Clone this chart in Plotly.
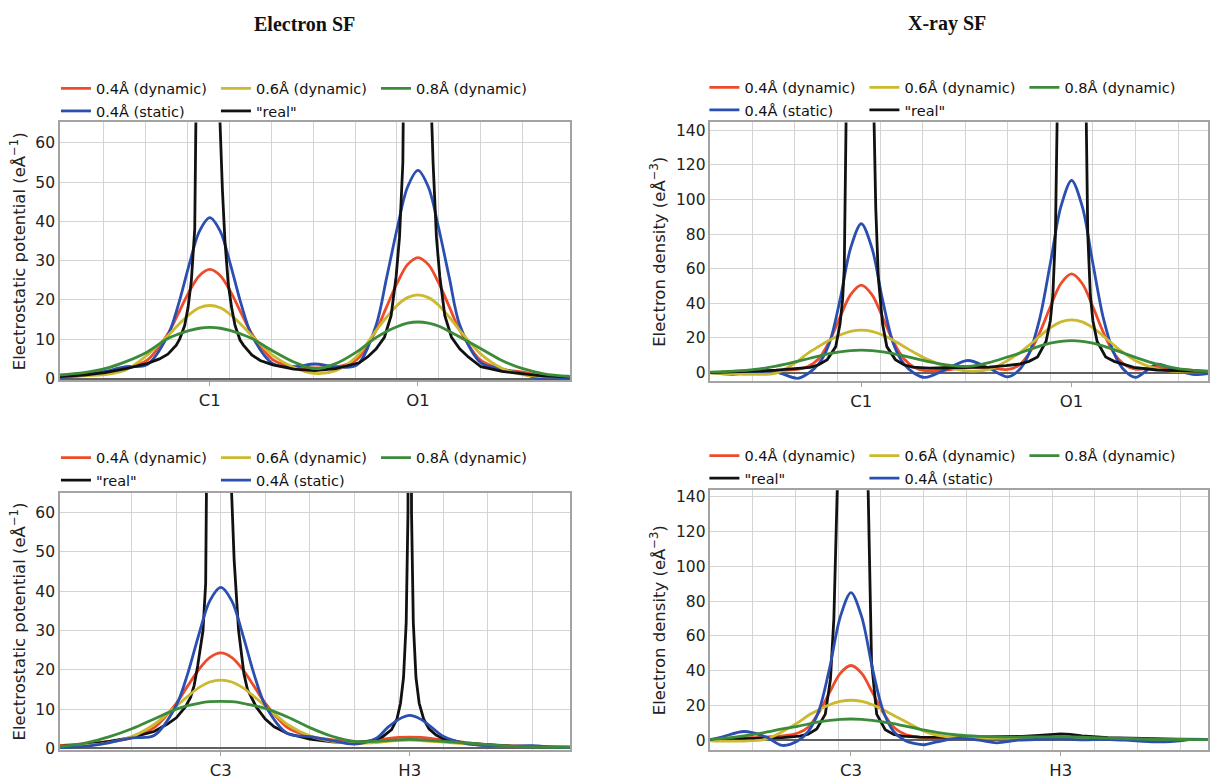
import plotly.graph_objects as go

W, H = 1210, 780
FONT = "DejaVu Sans"

NAMES = ["0.4Å (dynamic)", "0.4Å (static)", "0.6Å (dynamic)", '"real"', "0.8Å (dynamic)"]
COLORS = {"red": "#ee4b2b", "blue": "#2b4fb0", "yel": "#cbb92f", "blk": "#111111", "grn": "#3b8b3b"}

# ---------------- Electron SF, C1-O1 (top left) ----------------
TL_TICKS = [0.0, 1.24]
TL_LABELS = ["C1", "O1"]
TL_X = [-0.9, -0.75, -0.625, -0.5, -0.375, -0.25, -0.1875, -0.125, -0.0625, 0.0, 0.0625, 0.125, 0.1875, 0.25,
        0.375, 0.5, 0.625, 0.75, 0.875, 0.99, 1.0525, 1.115, 1.1775, 1.24, 1.3025, 1.365, 1.4275, 1.49, 1.615,
        1.74, 1.865, 1.99, 2.15]
TL_RED = [0.7, 1.2, 1.7, 2.6, 4.6, 11.4, 16.6, 22.0, 26.2, 27.8, 26.2, 22.0, 16.6, 11.4, 4.8, 2.9, 2.7, 2.9, 4.8,
          12.2, 18.2, 24.2, 29.0, 30.8, 29.0, 24.2, 18.2, 12.2, 4.6, 2.4, 1.6, 0.6, 0.4]
TL_BLUE = [0.3, 0.8, 1.8, 3.0, 3.5, 11.0, 18.8, 28.7, 37.5, 41.0, 37.5, 28.7, 18.8, 11.0, 3.8, 3.0, 3.7, 3.0, 3.4,
           13.5, 25.5, 38.0, 48.7, 53.0, 48.7, 38.0, 25.5, 13.5, 4.0, 2.4, 1.2, -0.3, 0.0]
TL_YEL = [0.6, 0.7, 1.0, 2.2, 5.9, 10.9, 13.7, 16.2, 18.0, 18.6, 18.0, 16.2, 13.7, 10.9, 5.9, 2.8, 1.3, 2.0, 5.6,
          12.2, 15.6, 18.6, 20.6, 21.3, 20.6, 18.6, 15.6, 12.2, 6.2, 2.6, 1.0, 0.5, 0.6]
TL_GRN = [0.9, 1.5, 2.5, 4.3, 6.7, 10.2, 11.3, 12.2, 12.8, 13.0, 12.8, 12.2, 11.3, 10.2, 7.0, 4.2, 2.5, 3.8, 6.8,
          10.4, 12.0, 13.2, 14.1, 14.4, 14.1, 13.3, 12.0, 10.6, 7.6, 4.6, 2.5, 1.2, 0.5]
TL_BLK_X = [-0.9, -0.75, -0.625, -0.5, -0.375, -0.3, -0.25, -0.2, -0.18, -0.15, -0.13, -0.11, -0.09, -0.075, -0.06,
            -0.03, 0.0, 0.03, 0.06, 0.075, 0.09, 0.11, 0.13, 0.15, 0.18, 0.2, 0.25, 0.3, 0.375, 0.5, 0.625, 0.75,
            0.89, 0.94, 0.99, 1.04, 1.08, 1.11, 1.13, 1.15, 1.165, 1.19, 1.24, 1.29, 1.315, 1.33, 1.35, 1.37, 1.4,
            1.44, 1.49, 1.54, 1.615, 1.74, 1.865, 1.99, 2.15]
TL_BLK = [0.5, 0.9, 1.5, 2.5, 3.8, 5.0, 6.2, 8.5, 10.0, 13.5, 18.0, 25.0, 38.0, 62.0, 90.0, 200.0, 400.0, 200.0,
          66.0, 48.0, 35.0, 24.0, 18.0, 13.5, 9.8, 8.5, 6.0, 4.6, 3.5, 2.4, 2.0, 2.5, 4.0, 5.5, 7.5, 10.5, 16.0,
          26.0, 36.0, 55.0, 75.0, 130.0, 500.0, 130.0, 75.0, 55.0, 36.0, 26.0, 16.0, 10.5, 7.5, 5.5, 3.0, 1.8, 1.2,
          0.6, 0.4]

# ---------------- X-ray SF, C1-O1 (top right) ----------------
TR_TICKS = [0.0, 1.235]
TR_LABELS = ["C1", "O1"]
TR_X = [-0.89, -0.75, -0.625, -0.5, -0.375, -0.3125, -0.25, -0.1875, -0.125, -0.0625, 0.0, 0.0625, 0.125, 0.1875,
        0.25, 0.3125, 0.375, 0.5, 0.625, 0.75, 0.86, 0.9225, 0.985, 1.0475, 1.11, 1.1725, 1.235, 1.2975, 1.36,
        1.4225, 1.485, 1.5475, 1.61, 1.735, 1.86, 1.96, 2.04]
TR_RED = [0.0, 0.4, 0.9, 1.2, 1.8, 3.5, 8.0, 18.0, 32.0, 45.0, 50.5, 45.0, 32.0, 18.0, 8.0, 3.0, 1.2, 1.5, 3.2,
          2.8, 1.8, 4.0, 11.0, 23.0, 38.0, 51.5, 57.0, 51.5, 38.0, 23.0, 11.0, 4.5, 2.0, 3.0, 2.0, 1.2, 0.8]
TR_BLUE = [0.0, -1.0, 0.5, 0.3, -3.3, -0.5, 5.0, 17.0, 42.0, 72.0, 86.0, 72.0, 42.0, 17.0, 5.0, -0.5, -2.8, 2.0,
           7.0, 2.5, -2.5, 1.0, 11.0, 31.0, 63.0, 96.0, 111.0, 96.0, 63.0, 31.0, 11.0, 1.0, -2.8, 4.8, 1.0, -1.1,
           -0.5]
TR_YEL = [-0.3, -0.7, -1.0, -0.3, 6.5, 11.3, 15.1, 18.7, 21.7, 23.8, 24.5, 23.8, 21.7, 18.7, 15.1, 11.5, 8.2, 3.5,
          1.0, 1.8, 7.0, 11.0, 15.8, 21.0, 25.9, 29.3, 30.5, 29.3, 25.9, 21.0, 15.8, 10.9, 6.9, 2.2, 0.6, 0.4, 0.8]
TR_GRN = [0.25, 0.8, 1.8, 3.7, 6.5, 8.0, 9.5, 10.9, 12.0, 12.75, 13.0, 12.75, 12.0, 10.9, 9.6, 8.2, 6.8, 4.5, 3.6,
          5.8, 9.1, 11.0, 13.3, 15.3, 17.0, 18.1, 18.5, 18.1, 17.0, 15.3, 13.3, 11.0, 8.8, 4.9, 2.3, 1.2, 0.6]
TR_BLK_X = [-0.89, -0.75, -0.625, -0.5, -0.375, -0.3, -0.25, -0.2, -0.15, -0.125, -0.11, -0.1, -0.09, -0.08, -0.04,
            0.0, 0.04, 0.07, 0.075, 0.085, 0.1, 0.125, 0.15, 0.2, 0.25, 0.3, 0.4, 0.5, 0.625, 0.75, 0.85, 0.935,
            0.985, 1.035, 1.085, 1.11, 1.125, 1.14, 1.15, 1.19, 1.235, 1.28, 1.32, 1.33, 1.345, 1.36, 1.385, 1.435,
            1.485, 1.535, 1.6, 1.735, 1.86, 2.04]
TR_BLK = [0.0, 0.3, 0.8, 1.4, 2.2, 3.0, 4.5, 7.5, 15.0, 28.0, 42.0, 60.0, 140.0, 220.0, 450.0, 800.0, 450.0, 200.0,
          145.0, 95.0, 55.0, 28.0, 15.0, 7.5, 4.5, 3.2, 2.6, 2.8, 3.0, 3.2, 4.0, 5.0, 6.5, 9.0, 18.0, 30.0, 45.0,
          80.0, 145.0, 450.0, 900.0, 450.0, 145.0, 80.0, 45.0, 30.0, 18.0, 9.0, 6.5, 5.0, 3.0, 1.5, 1.0, 0.5]

# ---------------- Electron SF, C3-H3 (bottom left) ----------------
BL_TICKS = [0.0, 1.062]
BL_LABELS = ["C3", "H3"]
BL_X = [-0.91, -0.75, -0.625, -0.5, -0.375, -0.25, -0.1875, -0.125, -0.0625, 0.0, 0.0625, 0.125, 0.1875, 0.25,
        0.375, 0.5, 0.625, 0.75, 0.875, 0.937, 1.0, 1.062, 1.125, 1.187, 1.25, 1.375, 1.5, 1.625, 1.75, 1.875, 1.97]
BL_RED = [0.7, 1.2, 1.8, 2.7, 5.3, 11.5, 15.8, 20.0, 23.1, 24.3, 23.1, 20.0, 15.8, 11.5, 5.3, 3.1, 2.2, 1.7, 2.0,
          2.5, 2.8, 2.9, 2.8, 2.5, 2.2, 1.5, 1.0, 0.7, 0.5, 0.4, 0.4]
BL_BLUE = [0.2, 0.6, 1.5, 2.7, 3.3, 11.0, 18.8, 28.7, 37.5, 41.0, 37.5, 28.7, 18.8, 11.0, 3.8, 3.0, 2.0, 1.1, 2.6,
           5.3, 7.4, 8.4, 7.4, 5.3, 3.1, 1.3, 0.7, 0.6, 0.7, 0.3, 0.2]
BL_YEL = [0.4, 0.8, 1.5, 3.0, 6.1, 10.8, 13.2, 15.4, 16.9, 17.4, 16.9, 15.4, 13.2, 10.8, 6.1, 3.2, 1.8, 1.3, 1.5,
          1.8, 2.0, 2.1, 2.0, 1.8, 1.6, 1.2, 0.8, 0.6, 0.5, 0.4, 0.4]
BL_GRN = [0.4, 1.5, 3.0, 5.0, 7.5, 10.0, 10.9, 11.5, 11.9, 12.0, 11.9, 11.5, 10.9, 10.2, 8.0, 5.3, 3.1, 1.8, 1.8,
          2.0, 2.2, 2.3, 2.2, 2.0, 1.8, 1.4, 1.0, 0.6, 0.4, 0.3, 0.3]
BL_BLK_X = [-0.91, -0.75, -0.625, -0.5, -0.375, -0.3, -0.25, -0.2, -0.17, -0.15, -0.13, -0.1, -0.085, -0.07, -0.05,
            -0.025, 0.0, 0.025, 0.05, 0.06, 0.075, 0.1, 0.13, 0.15, 0.2, 0.25, 0.3, 0.375, 0.5, 0.625, 0.75, 0.85,
            0.91, 0.96, 0.99, 1.01, 1.027, 1.042, 1.052, 1.062, 1.072, 1.082, 1.097, 1.115, 1.14, 1.17, 1.21, 1.25,
            1.375, 1.5, 1.625, 1.75, 1.97]
BL_BLK = [0.5, 1.0, 1.8, 2.8, 4.3, 6.2, 7.8, 10.5, 13.0, 16.0, 21.0, 30.0, 42.0, 65.0, 110.0, 220.0, 500.0, 220.0,
          100.0, 66.0, 48.0, 30.0, 19.0, 15.0, 10.5, 7.5, 5.5, 3.8, 2.4, 1.7, 1.4, 2.0, 3.0, 4.8, 7.5, 11.5, 18.0,
          32.0, 60.0, 300.0, 60.0, 32.0, 18.0, 11.5, 7.5, 5.0, 3.4, 2.5, 1.3, 0.9, 0.6, 0.5, 0.3]

# ---------------- X-ray SF, C3-H3 (bottom right) ----------------
BR_TICKS = [0.0, 1.225]
BR_LABELS = ["C3", "H3"]
BR_X = [-0.83, -0.75, -0.625, -0.5, -0.4, -0.3125, -0.25, -0.1875, -0.125, -0.0625, 0.0, 0.0625, 0.125, 0.1875,
        0.25, 0.3125, 0.375, 0.43, 0.5, 0.62, 0.75, 0.85, 0.975, 1.1, 1.225, 1.35, 1.475, 1.6, 1.78, 1.9, 2.0, 2.09]
BR_RED = [0.5, 0.8, 1.3, 1.8, 2.5, 4.0, 7.5, 16.0, 27.5, 38.5, 43.0, 38.5, 27.5, 16.0, 7.5, 3.5, 2.0, 1.5, 1.4,
          1.5, 1.6, 1.7, 1.8, 1.8, 1.8, 1.5, 1.2, 0.8, 0.5, 0.4, 0.3, 0.3]
BR_BLUE = [0.0, 2.0, 5.0, 2.0, -3.0, -0.5, 5.0, 17.0, 41.5, 71.0, 85.0, 71.0, 41.5, 17.0, 5.0, 0.0, -2.0, -2.6,
           -1.0, 1.0, 0.0, -1.5, 0.0, 0.5, 0.8, 0.2, 0.5, 0.0, -1.0, -0.5, 0.5, 0.3]
BR_YEL = [-0.3, -0.5, -0.5, 0.5, 5.0, 10.0, 14.2, 17.5, 20.4, 22.3, 23.0, 22.3, 20.4, 17.5, 14.2, 11.0, 7.7, 5.0,
          3.0, 1.5, 1.2, 1.2, 1.3, 1.3, 1.3, 1.2, 1.0, 0.7, 0.5, 0.4, 0.3, 0.3]
BR_GRN = [0.4, 1.0, 2.5, 4.5, 6.5, 8.0, 9.3, 10.5, 11.4, 12.0, 12.2, 12.0, 11.4, 10.5, 9.5, 8.2, 7.0, 5.8, 4.5,
          3.0, 2.2, 1.9, 1.8, 1.9, 2.0, 1.8, 1.3, 0.9, 0.5, 0.4, 0.3, 0.3]
BR_BLK_X = [-0.83, -0.6, -0.4, -0.3, -0.25, -0.2, -0.15, -0.12, -0.1, -0.08, -0.04, 0.0, 0.04, 0.08, 0.1, 0.12,
            0.15, 0.2, 0.25, 0.3, 0.4, 0.6, 0.85, 1.0, 1.1, 1.17, 1.225, 1.28, 1.35, 1.5, 1.7, 1.9, 2.09]
BR_BLK = [0.3, 1.0, 1.5, 2.3, 3.5, 6.5, 15.0, 35.0, 70.0, 145.0, 400.0, 800.0, 500.0, 200.0, 145.0, 45.0, 15.0,
          6.0, 3.3, 2.3, 1.8, 1.6, 1.8, 2.2, 2.8, 3.3, 3.6, 3.3, 2.5, 1.5, 0.9, 0.6, 0.4]

# minor gridline positions (Å) for each panel
TL_GRID = [-0.635, -0.385, -0.135, 0.115, 0.365, 0.615, 0.865, 1.115, 1.365, 1.615, 1.865]
TR_GRID = [-0.64, -0.39, -0.14, 0.11, 0.36, 0.61, 0.86, 1.11, 1.36, 1.61, 1.86]
BL_GRID = [-0.5, -0.25, 0.0, 0.25, 0.5, 0.75, 1.0, 1.25, 1.5, 1.75]
BR_GRID = [-0.575, -0.325, -0.075, 0.175, 0.425, 0.675, 0.925, 1.175, 1.425, 1.675, 1.925]

FRAME = "#a3a3a3"
GRID = "#d4d4d4"
LW = 2.8

fig = go.Figure()


def add_panel(xa, ya, x, series, blk_x, blk, order, leg_row1, leg_row2):
    for key in order:
        name = NAMES[["red", "blue", "yel", "blk", "grn"].index(key)]
        legend = leg_row1 if key in ("red", "yel", "grn") else leg_row2
        if key == "blk":
            assert len(blk_x) == len(blk)
            fig.add_trace(go.Scatter(x=blk_x, y=blk, mode="lines", name=name, xaxis=xa, yaxis=ya, legend=legend,
                                     line=dict(color=COLORS[key], width=LW, shape="linear")))
        else:
            ys = series[key]
            assert len(x) == len(ys), (key, len(x), len(ys))
            fig.add_trace(go.Scatter(x=x, y=ys, mode="lines", name=name, xaxis=xa, yaxis=ya, legend=legend,
                                     line=dict(color=COLORS[key], width=LW, shape="spline", smoothing=0.9)))


TOP_ORDER = ["red", "blue", "yel", "blk", "grn"]
BOT_ORDER = ["red", "blk", "yel", "blue", "grn"]

add_panel("x", "y", TL_X, {"red": TL_RED, "blue": TL_BLUE, "yel": TL_YEL, "grn": TL_GRN}, TL_BLK_X, TL_BLK,
          TOP_ORDER, "legend", "legend2")
add_panel("x2", "y2", TR_X, {"red": TR_RED, "blue": TR_BLUE, "yel": TR_YEL, "grn": TR_GRN}, TR_BLK_X, TR_BLK,
          TOP_ORDER, "legend3", "legend4")
add_panel("x3", "y3", BL_X, {"red": BL_RED, "blue": BL_BLUE, "yel": BL_YEL, "grn": BL_GRN}, BL_BLK_X, BL_BLK,
          BOT_ORDER, "legend5", "legend6")
add_panel("x4", "y4", BR_X, {"red": BR_RED, "blue": BR_BLUE, "yel": BR_YEL, "grn": BR_GRN}, BR_BLK_X, BR_BLK,
          BOT_ORDER, "legend7", "legend8")


def px_x(p):
    return p / W


def px_y(p):
    return 1 - p / H


def xaxis(dom, rng, tickvals, ticktext, grid, anchor):
    return dict(domain=dom, range=rng, anchor=anchor, tickmode="array", tickvals=tickvals, ticktext=ticktext,
                showgrid=False, zeroline=False, showline=True, mirror=True, linecolor=FRAME, linewidth=1.5,
                ticks="outside", ticklen=4, tickwidth=1.2, tickcolor=FRAME,
                tickfont=dict(family=FONT, size=16.5, color="#222"),
                minor=dict(tickmode="array", tickvals=grid, showgrid=True, gridcolor=GRID, gridwidth=1.2, ticks=""))


def yaxis(dom, rng, dtick, title, anchor):
    return dict(domain=dom, range=rng, anchor=anchor, tickmode="linear", tick0=0, dtick=dtick, showgrid=True,
                gridcolor=GRID, gridwidth=1.2, zeroline=True, zerolinecolor="#606060", zerolinewidth=1.5,
                showline=True, mirror=True, linecolor=FRAME, linewidth=1.5, ticks="",
                tickfont=dict(family=FONT, size=15.5, color="#222"),
                title=dict(text=title, font=dict(family=FONT, size=16.5, color="#222"), standoff=6))


LEFT_DOM = [px_x(60), px_x(570)]
RIGHT_DOM = [px_x(711), px_x(1209)]

fig.update_layout(
    width=W, height=H, margin=dict(l=0, r=0, t=0, b=0),
    paper_bgcolor="white", plot_bgcolor="white", showlegend=True,
    xaxis=xaxis(LEFT_DOM, [-0.893, 2.143], TL_TICKS, TL_LABELS, TL_GRID, "y"),
    yaxis=yaxis([px_y(385), px_y(122.7)], [-0.4, 65.2], 10, "Electrostatic potential (eÅ<sup>−1</sup>)", "x"),
    xaxis2=xaxis(RIGHT_DOM, [-0.886, 2.036], TR_TICKS, TR_LABELS, TR_GRID, "y2"),
    yaxis2=yaxis([px_y(386), px_y(122.7)], [-4.9, 144.5], 20, "Electron density (eÅ<sup>−3</sup>)", "x2"),
    xaxis3=xaxis(LEFT_DOM, [-0.904, 1.96], BL_TICKS, BL_LABELS, BL_GRID, "y3"),
    yaxis3=yaxis([px_y(761.7), px_y(500)], [-0.4, 65.0], 10, "Electrostatic potential (eÅ<sup>−1</sup>)", "x3"),
    xaxis4=xaxis(RIGHT_DOM, [-0.821, 2.085], BR_TICKS, BR_LABELS, BR_GRID, "y4"),
    yaxis4=yaxis([px_y(761.7), px_y(497.3)], [-5.65, 143.8], 20, "Electron density (eÅ<sup>−3</sup>)", "x4"),
)


def legend(xpx, ypx):
    return dict(x=px_x(xpx), y=px_y(ypx), xanchor="left", yanchor="middle", orientation="h",
                bgcolor="rgba(0,0,0,0)", borderwidth=0, entrywidth=115, entrywidthmode="pixels",
                itemwidth=30, font=dict(family=FONT, size=14.5, color="#111"))


fig.update_layout(
    legend=legend(56, 88), legend2=legend(56, 111),
    legend3=legend(705, 87), legend4=legend(705, 110),
    legend5=legend(56, 464), legend6=legend(56, 487),
    legend7=legend(705, 462), legend8=legend(705, 485),
)

TITLE_FONT = dict(family="Liberation Serif, Times New Roman, serif", size=20, color="#111")
fig.add_annotation(text="<b>Electron SF</b>", x=px_x(305), y=px_y(22), xref="paper", yref="paper",
                   showarrow=False, font=TITLE_FONT, xanchor="center", yanchor="middle")
fig.add_annotation(text="<b>X-ray SF</b>", x=px_x(948), y=px_y(22), xref="paper", yref="paper",
                   showarrow=False, font=TITLE_FONT, xanchor="center", yanchor="middle")

fig.write_html("out.html")
